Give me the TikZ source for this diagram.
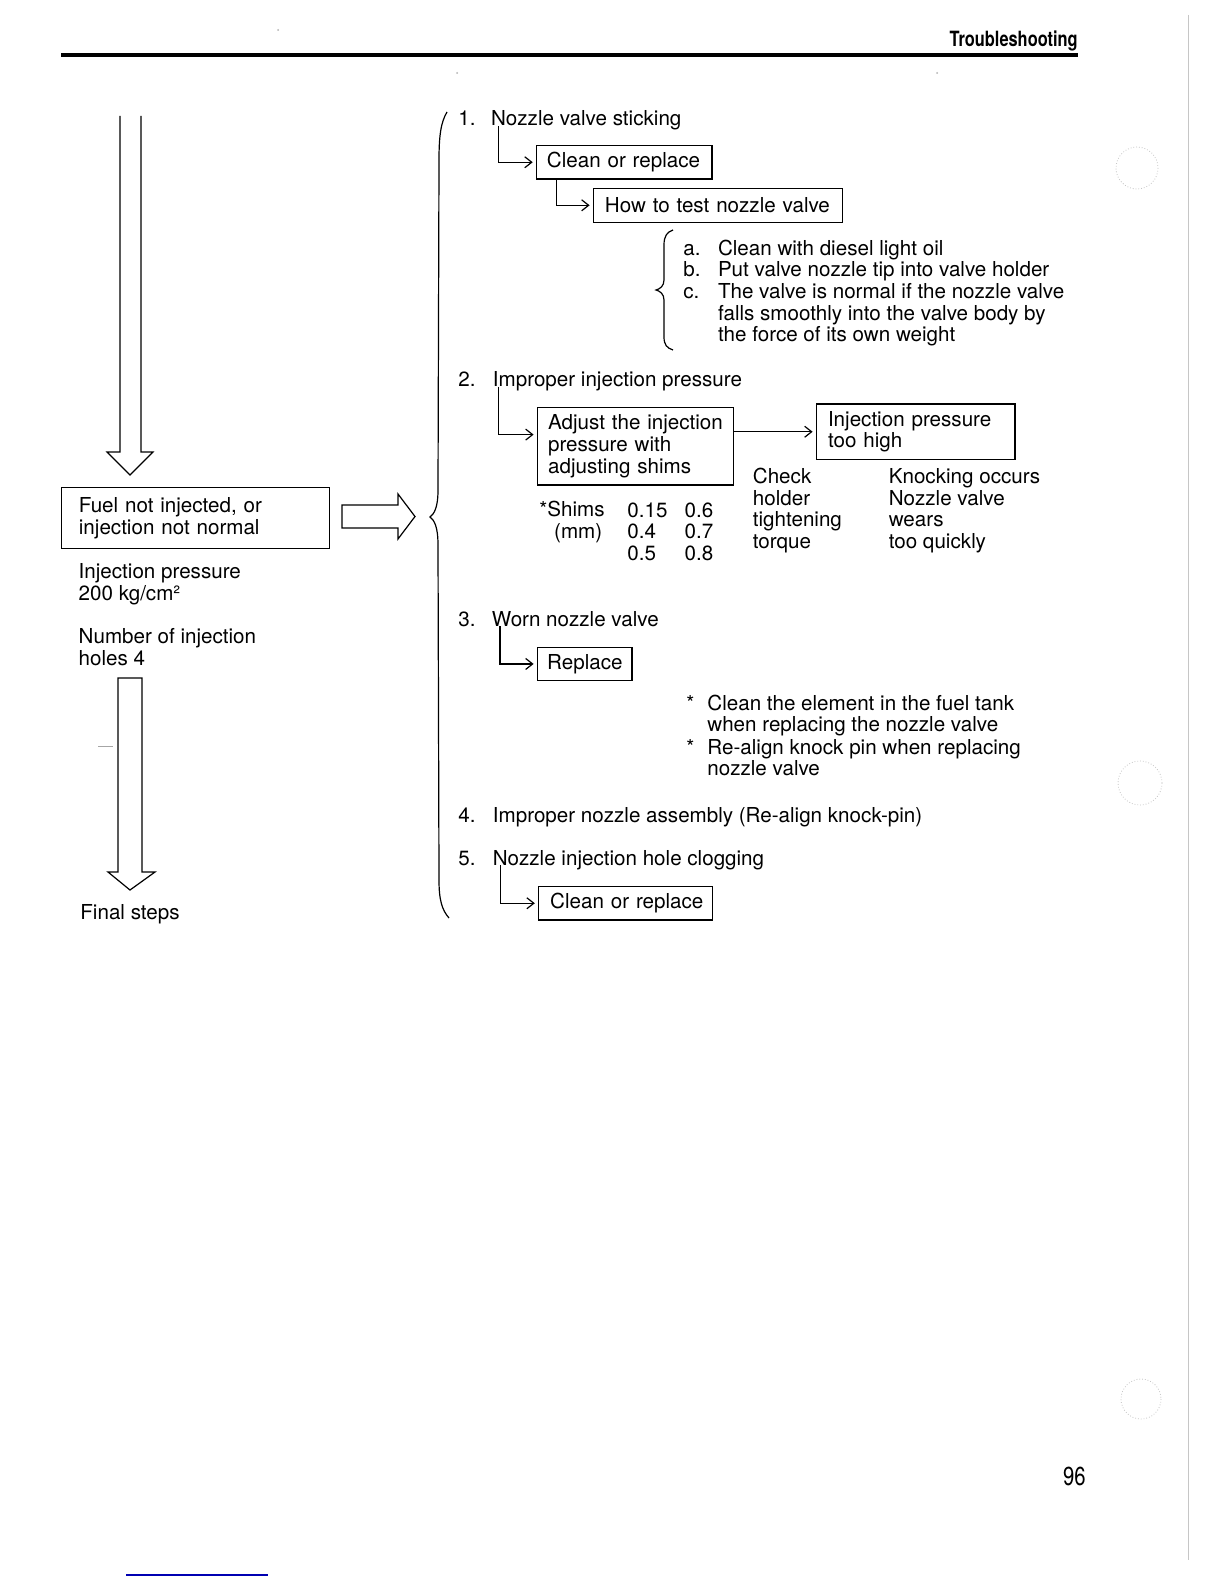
\documentclass[tikz,border=0pt]{standalone}
\usepackage{fontspec}
\setmainfont{TeX Gyre Heros}
\newfontfamily\condfont[FakeStretch=0.78]{TeX Gyre Heros}
\usetikzlibrary{arrows.meta}
\newcommand{\fs}{\fontsize{10.3}{10.85}\selectfont}
\begin{document}
\begin{tikzpicture}[x=0.5pt,y=-0.5pt,
  txt/.style={anchor=base west, inner sep=0pt, font=\fs, align=left},
  box/.style={draw, line width=0.6pt, anchor=north west, inner ysep=0pt, align=left, font=\fs},
  conn/.style={line width=0.6pt, -{Straight Barb[length=3.5pt,width=5.5pt]}, shorten >=1.5pt},
  blockarrow/.style={line width=0.6pt},
  bracepath/.style={line width=0.6pt},
  faint/.style={gray!45, line width=0.4pt}]
\fill[white] (0,0) rectangle (1224,1584);
\useasboundingbox (0,0) rectangle (1224,1584);

% header
\node[anchor=base east, inner sep=0pt, font=\fontsize{10.5}{12}\condfont\bfseries\selectfont] (hdr) at (1078,47) {Troubleshooting};
\draw[line width=2pt] (61,55) -- (1078,55);

% scan marks
\draw[faint] (1188,15) -- (1188,1560);
\draw[faint, densely dotted] (1137,168) circle[radius=21];
\draw[faint, densely dotted] (1140,783) circle[radius=22];
\draw[faint, densely dotted] (1141,1399) circle[radius=20];
\fill[gray!60] (278,30) circle[radius=1];
\fill[gray!60] (457,73) circle[radius=1];
\fill[gray!60] (937,73) circle[radius=1];
\draw[blue!70!black, line width=0.6pt] (126,1575) -- (268,1575);

% left flow (multi-line text nodes are placed by the baseline of their last line)
\draw[blockarrow] (120,116) -- (120,452) -- (107,452) -- (130,475) -- (153,452) -- (141,452) -- (141,116);
\node[box, inner xsep=8.65pt, text width=116.7pt, minimum height=30.5pt] (fuel) at (61,487) {\mbox{Fuel not injected, or}\\\mbox{injection not normal}};
\draw[blockarrow] (342,505) -- (398,505) -- (398,494) -- (415,516.5) -- (398,539) -- (398,528) -- (342,528) -- cycle;
\node[txt] (ip) at (78.3,600.5) {Injection pressure\\200 kg/cm²};
\node[txt] (nh) at (78.3,665) {Number of injection\\holes 4};
\draw[blockarrow] (118,678) -- (118,872) -- (108,872) -- (130,890) -- (155,872) -- (142,872) -- (142,678) -- cycle;
\draw[gray!70, line width=0.4pt] (98,746) -- (113,746);
\node[txt] (fin) at (80,919.3) {Final steps};

% big brace
\draw[bracepath] (447,112) .. controls (441,122) and (439,135) .. (439,160) -- (438,490)
  .. controls (438,508) and (434,514) .. (430,517) .. controls (434,520) and (438,526) .. (438,545)
  -- (439,880) .. controls (439,900) and (442,910) .. (449,918);

% item 1
\node[txt] (n1) at (458,126) {1.};
\node[txt] (t1) at (490.7,126) {Nozzle valve sticking};
\node[box, inner xsep=5.3pt, text width=77.2pt, minimum height=16.65pt] (b1) at (535.7,145) {\mbox{Clean or replace}};
\draw[conn] ([xshift=4pt]t1.base west) |- (b1.west);
\node[box, inner xsep=5.85pt, text width=112.8pt, minimum height=17pt] (b2) at (592.6,187.7) {\mbox{How to test nozzle valve}};
\draw[conn] ([xshift=10.5pt]b1.south west) |- (b2.west);
\draw[bracepath] (673,230) .. controls (667,232) and (664,236) .. (664,245) -- (664,280)
  .. controls (664,286) and (660,289) .. (656,290) .. controls (660,291) and (664,294) .. (664,300)
  -- (664,337) .. controls (664,345) and (667,348) .. (673,350);
\node[txt] (la) at (683,298.4) {a.\\b.\\c.};
\node[txt] (ta) at (717.6,341.8) {Clean with diesel light oil\\Put valve nozzle tip into valve holder\\The valve is normal if the nozzle valve\\falls smoothly into the valve body by\\the force of its own weight};

% item 2
\node[txt] (n2) at (458,386.7) {2.};
\node[txt] (t2) at (492.4,386.7) {Improper injection pressure};
\node[box, inner xsep=5.45pt, text width=87.1pt, minimum height=38.8pt] (b3) at (536.6,406.7) {\mbox{Adjust the injection}\\\mbox{pressure with}\\\mbox{adjusting shims}};
\draw[conn] ([xshift=3.15pt]t2.base west) |- ([yshift=5.75pt]b3.west);
\node[box, inner xsep=5.9pt, text width=87.55pt, minimum height=27.85pt] (b4) at (815.6,403.3) {\mbox{Injection pressure}\\\mbox{too high}};
\draw[conn] (b3.east |- b4.west) -- (b4.west);
\node[txt] (sh) at (539,516.7) {*Shims};
\node[txt] (mm) at (553.8,538.3) {(mm)};
\node[txt] (c1) at (627,560.4) {0.15\\0.4\\0.5};
\node[txt] (c2) at (684.3,560.4) {0.6\\0.7\\0.8};
\node[txt] (ck) at (752.5,548.4) {Check\\holder\\tightening\\torque};
\node[txt] (kn) at (888.4,548.4) {Knocking occurs\\Nozzle valve\\wears\\too quickly};

% item 3
\node[txt] (n3) at (458,626) {3.};
\node[txt] (t3) at (491.5,626) {Worn nozzle valve};
\node[box, inner xsep=5pt, text width=37.35pt, minimum height=16.65pt] (b5) at (536.6,646.7) {\mbox{Replace}};
\draw[conn] ([xshift=4.25pt]t3.base west) |- (b5.west);
\node[txt] (st1) at (686,710) {*};
\node[txt] (nt1) at (707,731.7) {Clean the element in the fuel tank\\when replacing the nozzle valve};
\node[txt] (st2) at (686,754) {*};
\node[txt] (nt2) at (707,775.7) {Re-align knock pin when replacing\\nozzle valve};

% item 4
\node[txt] (n4) at (458,822.3) {4.};
\node[txt] (t4) at (492.4,822.3) {Improper nozzle assembly (Re-align knock-pin)};

% item 5
\node[txt] (n5) at (458,865) {5.};
\node[txt] (t5) at (492.4,865) {Nozzle injection hole clogging};
\node[box, inner xsep=5.9pt, text width=75.15pt, minimum height=16.65pt] (b6) at (537.8,886) {\mbox{Clean or replace}};
\draw[conn] ([xshift=4.2pt]t5.base west) |- (b6.west);

% page number
\node[anchor=base east, inner sep=0pt, font=\fontsize{13}{14}\condfont\selectfont] (pg) at (1086,1485) {96};
\end{tikzpicture}
\end{document}
